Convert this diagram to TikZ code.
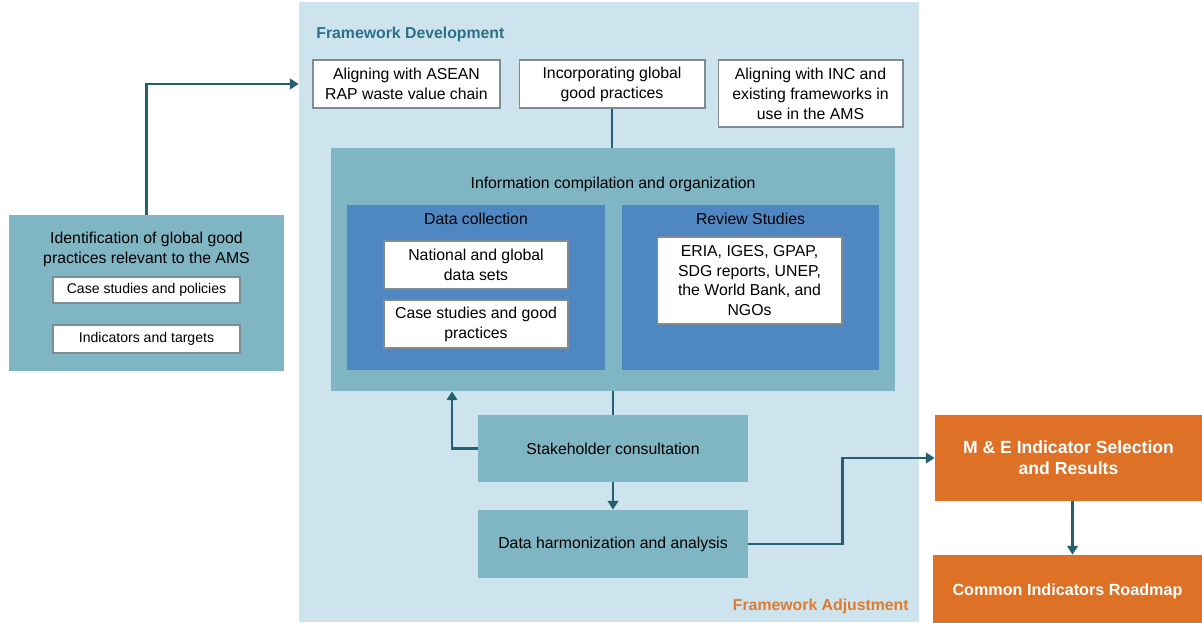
\documentclass[tikz,border=0pt]{standalone}
\usepackage{fontspec}
\setmainfont{Liberation Sans}
\usetikzlibrary{arrows.meta,calc}

\definecolor{panelblue}{HTML}{CDE4EF}
\definecolor{tealbox}{HTML}{80B5C3}
\definecolor{midblue}{HTML}{4F87C3}
\definecolor{orangebox}{HTML}{DF7127}
\definecolor{linkcol}{HTML}{24606F}
\definecolor{headteal}{HTML}{2C7185}
\definecolor{headorange}{HTML}{E07A2C}
\definecolor{edgegrey}{HTML}{7F8C95}

\tikzset{
  txt/.style={font=\fontsize{9}{11.3}\selectfont, align=center, inner sep=0pt},
  whitebox/.style={txt, draw=edgegrey, line width=0.6pt, fill=white},
  tealnode/.style={txt, fill=tealbox},
  bluenode/.style={fill=midblue, inner sep=0pt},
  orangenode/.style={txt, fill=orangebox, text=white, font=\fontsize{10}{12}\selectfont\bfseries},
  link/.style={draw=linkcol, line width=1.4pt},
  arrowlink/.style={link, -{Triangle[length=5pt,width=6pt]}}
}

\begin{document}
\begin{tikzpicture}[x=0.02cm,y=-0.02cm]
    \useasboundingbox (0,0) rectangle (1202,622);

    % Hintergrund
    \node[fill=panelblue, inner sep=0pt, minimum width=12.4cm, minimum height=12.4cm] (panel) at (609,312) {};
    \node[anchor=west, font=\fontsize{9}{11}\selectfont\bfseries, text=headteal, inner sep=0pt] (devtitle) at (316,34) {Framework Development};
    \node[anchor=east, font=\fontsize{9}{11}\selectfont\bfseries, text=headorange, inner sep=0pt] (adjtitle) at (909,606) {Framework Adjustment};

    % obere Kaesten
    \node[whitebox, minimum width=3.74cm, minimum height=0.96cm] (asean) at (406.5,84) {Aligning with ASEAN\\RAP waste value chain};
    \node[whitebox, minimum width=3.72cm, minimum height=0.96cm] (global) at (612,84) {Incorporating global\\good practices};
    \node[whitebox, minimum width=3.70cm, minimum height=1.34cm] (inc) at (810.5,93.5) {Aligning with INC and\\existing frameworks in\\use in the AMS};

    % Informationssammlung
    \node[tealnode, minimum width=11.28cm, minimum height=4.86cm] (info) at (613,269.5) {};
    \node[txt] (infotitle) at (613,184) {Information compilation and organization};

    \node[bluenode, minimum width=5.16cm, minimum height=3.3cm] (collect) at (476,287.5) {};
    \node[txt] (collecttitle) at (476,219) {Data collection};
    \node[whitebox, minimum width=3.68cm, minimum height=0.96cm] (datasets) at (476,265) {National and global\\data sets};
    \node[whitebox, minimum width=3.68cm, minimum height=0.96cm] (cases) at (476,324) {Case studies and good\\practices};

    \node[bluenode, minimum width=5.14cm, minimum height=3.3cm] (review) at (750.5,287.5) {};
    \node[txt] (reviewtitle) at (750.5,219) {Review Studies};
    \node[whitebox, minimum width=3.70cm, minimum height=1.74cm] (reports) at (749.5,280.5) {ERIA, IGES, GPAP,\\SDG reports, UNEP,\\the World Bank, and\\NGOs};

    % Konsultation und Analyse
    \node[tealnode, minimum width=5.4cm, minimum height=1.34cm] (consult) at (613,448.5) {Stakeholder consultation};
    \node[tealnode, minimum width=5.4cm, minimum height=1.36cm] (harmon) at (613,544) {Data harmonization and analysis};

    % linker Kasten
    \node[tealnode, minimum width=5.5cm, minimum height=3.12cm] (ident) at (146.5,293) {};
    \node[txt] (identtitle) at (146.5,249) {Identification of global good\\practices relevant to the AMS};
    \node[whitebox, font=\fontsize{8}{10}\selectfont, minimum width=3.74cm, minimum height=0.52cm] (policies) at (146.5,290) {Case studies and policies};
    \node[whitebox, font=\fontsize{8}{10}\selectfont, minimum width=3.74cm, minimum height=0.56cm] (targets) at (146.5,339) {Indicators and targets};

    % rechte Kaesten
    \node[orangenode, minimum width=5.34cm, minimum height=1.72cm] (select) at (1068.5,458) {M \& E Indicator Selection\\and Results};
    \node[orangenode, font=\fontsize{9.2}{11}\selectfont\bfseries, minimum width=5.38cm, minimum height=1.44cm] (roadmap) at (1067.5,591) {Common Indicators Roadmap};

    % Verbindungen
    \draw[arrowlink] (ident.north) |- (asean.west -| panel.west);
    \draw[link] (global.south) -- (global.south |- info.north);
    \draw[link] (info.south) -- (consult.north);
    \draw[arrowlink] (consult.west) -| ([xshift=-3.22cm]info.south);
    \draw[arrowlink] (consult.south) -- (harmon.north);
    \draw[arrowlink] (harmon.east) -- ++(94,0) |- (select.west);
    \draw[arrowlink] ([xshift=0.08cm]select.south) -- ([xshift=0.08cm]select.south |- roadmap.north);
\end{tikzpicture}
\end{document}
